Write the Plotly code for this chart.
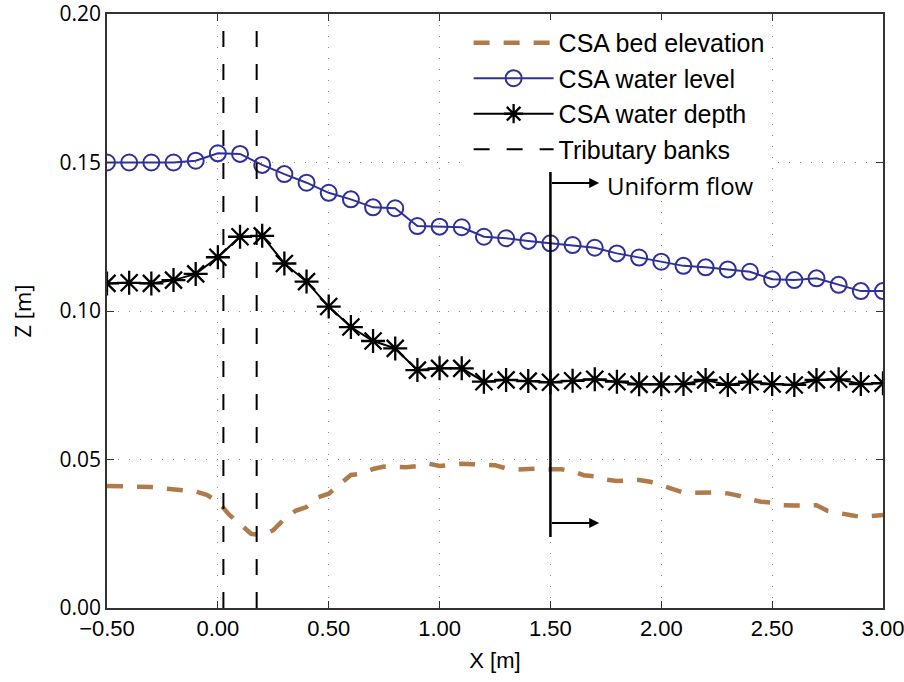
import plotly.graph_objects as go

# ---------------- data ----------------
x_csa = [-0.5, -0.4, -0.3, -0.2, -0.1, 0.0, 0.1, 0.2, 0.3, 0.4, 0.5, 0.6, 0.7,
         0.8, 0.9, 1.0, 1.1, 1.2, 1.3, 1.4, 1.5, 1.6, 1.7, 1.8, 1.9, 2.0,
         2.1, 2.2, 2.3, 2.4, 2.5, 2.6, 2.7, 2.8, 2.9, 3.0]
water_level = [0.1500, 0.1500, 0.1500, 0.1500, 0.1506, 0.1531, 0.1529, 0.1492,
               0.1461, 0.1432, 0.1398, 0.1376, 0.1349, 0.1346, 0.1286, 0.1284,
               0.1282, 0.1250, 0.1245, 0.1236, 0.1228, 0.1222, 0.1213, 0.1194,
               0.1180, 0.1166, 0.1152, 0.1147, 0.1140, 0.1132, 0.1107, 0.1104,
               0.1110, 0.1088, 0.1067, 0.1067]
water_depth = [0.1093, 0.1095, 0.1093, 0.1104, 0.1125, 0.1181, 0.1250, 0.1253,
               0.1160, 0.1099, 0.1015, 0.0946, 0.0899, 0.0874, 0.0801, 0.0807,
               0.0807, 0.0762, 0.0768, 0.0764, 0.0760, 0.0765, 0.0770, 0.0762,
               0.0753, 0.0753, 0.0754, 0.0768, 0.0751, 0.0762, 0.0754, 0.0751,
               0.0768, 0.0770, 0.0754, 0.0757]

x_bed = [-0.50, -0.45, -0.40, -0.35, -0.30, -0.25, -0.20, -0.15, -0.10, -0.05,
         0.00, 0.05, 0.10, 0.15, 0.20, 0.25, 0.30, 0.35, 0.40, 0.45,
         0.50, 0.55, 0.60, 0.65, 0.70, 0.75, 0.80, 0.85, 0.90, 0.95,
         1.00, 1.05, 1.10, 1.15, 1.20, 1.25, 1.30, 1.35, 1.40, 1.45,
         1.50, 1.55, 1.60, 1.65, 1.70, 1.75, 1.80, 1.85, 1.90, 1.95,
         2.00, 2.05, 2.10, 2.15, 2.20, 2.25, 2.30, 2.35, 2.40, 2.45,
         2.50, 2.55, 2.60, 2.65, 2.70, 2.75, 2.80, 2.85, 2.90, 2.95, 3.00]
bed_elev = [0.0411, 0.0410, 0.0410, 0.0409, 0.0407, 0.0403, 0.0399, 0.0396, 0.0392, 0.0381,
            0.0358, 0.0315, 0.0284, 0.0250, 0.0245, 0.0262, 0.0300, 0.0327, 0.0340, 0.0372,
            0.0385, 0.0415, 0.0448, 0.0452, 0.0468, 0.0476, 0.0474, 0.0474, 0.0478, 0.0486,
            0.0478, 0.0483, 0.0486, 0.0484, 0.0484, 0.0481, 0.0470, 0.0466, 0.0468, 0.0470,
            0.0467, 0.0467, 0.0460, 0.0447, 0.0443, 0.0432, 0.0428, 0.0429, 0.0431, 0.0425,
            0.0412, 0.0398, 0.0389, 0.0388, 0.0389, 0.0389, 0.0386, 0.0378, 0.0366, 0.0358,
            0.0355, 0.0346, 0.0345, 0.0347, 0.0346, 0.0327, 0.0319, 0.0313, 0.0307, 0.0311, 0.0313]

bank_x = [0.025, 0.175]
z_range = [0.0, 0.20]

uniform_x = 1.5
uniform_z = [0.0239, 0.1468]
arrow_z = [0.1431, 0.0286]
arrow_tip_x = 1.72

x_ticks = [-0.5, 0.0, 0.5, 1.0, 1.5, 2.0, 2.5, 3.0]
y_ticks = [0.0, 0.05, 0.10, 0.15, 0.20]

# ---------------- figure ----------------
fig = go.Figure()

fig.add_trace(go.Scatter(
    x=x_bed, y=bed_elev, mode="lines", name="CSA bed elevation",
    line=dict(color="#B07A4B", width=4.5, dash="16px,14px")))

fig.add_trace(go.Scatter(
    x=x_csa, y=water_level, mode="lines+markers", name="CSA water level",
    line=dict(color="#30309C", width=2),
    marker=dict(symbol="circle-open", size=16, color="#30309C",
                line=dict(width=2, color="#30309C"))))

fig.add_trace(go.Scatter(
    x=x_csa, y=water_depth, mode="lines+markers", name="CSA water depth",
    line=dict(color="black", width=2),
    marker=dict(symbol="asterisk-open", size=20, color="black",
                line=dict(width=2.3, color="black"))))

bx, by = [], []
for b in bank_x:
    bx += [b, b, None]
    by += [z_range[0], z_range[1], None]
fig.add_trace(go.Scatter(
    x=bx, y=by, mode="lines", name="Tributary banks",
    line=dict(color="black", width=2, dash="16px,17px")))

# uniform flow marker
fig.add_shape(type="line", xref="x", yref="y",
              x0=uniform_x, x1=uniform_x, y0=uniform_z[0], y1=uniform_z[1],
              line=dict(color="black", width=2.5))
for az in arrow_z:
    fig.add_annotation(x=arrow_tip_x, y=az, ax=uniform_x, ay=az,
                       xref="x", yref="y", axref="x", ayref="y",
                       text="", showarrow=True, arrowhead=2, arrowsize=1,
                       arrowwidth=2, arrowcolor="black")
fig.add_annotation(x=arrow_tip_x, y=arrow_z[0], xref="x", yref="y",
                   text="Uniform flow", showarrow=False, xanchor="left",
                   xshift=6, yshift=-3,
                   font=dict(family="Open Sans", size=24, color="black"))

axis_common = dict(
    showline=True, linecolor="#333", linewidth=1.5, mirror="ticks",
    ticks="inside", ticklen=7, tickcolor="#333", tickwidth=1.2,
    showgrid=True, gridcolor="#8a8a8a", gridwidth=1, griddash="1px,10px",
    zeroline=False, ticklabeloverflow="allow", automargin=False,
)

fig.update_xaxes(range=[-0.5, 3.0], tickvals=x_ticks, tickformat=".2f",
                 tickfont=dict(family="Liberation Sans", size=22, color="black"),
                 title=dict(text="X [m]", standoff=12,
                            font=dict(family="Liberation Sans", size=22, color="black")),
                 **axis_common)
fig.update_yaxes(range=[0.0, 0.20], tickvals=y_ticks, tickformat=".2f",
                 tickfont=dict(family="Open Sans", size=21, color="black"),
                 title=dict(text="Z [m]", standoff=22,
                            font=dict(family="Open Sans", size=22, color="black")),
                 **axis_common)

fig.update_layout(
    width=904, height=682,
    margin=dict(l=107, r=21, t=14, b=74, autoexpand=False),
    plot_bgcolor="white", paper_bgcolor="white",
    showlegend=True,
    legend=dict(x=0.466, y=0.99, xanchor="left", yanchor="top",
                bgcolor="white", borderwidth=0, itemwidth=80,
                font=dict(family="Liberation Sans", size=25, color="black"),
                tracegroupgap=0),
)

fig.write_html("out.html")
